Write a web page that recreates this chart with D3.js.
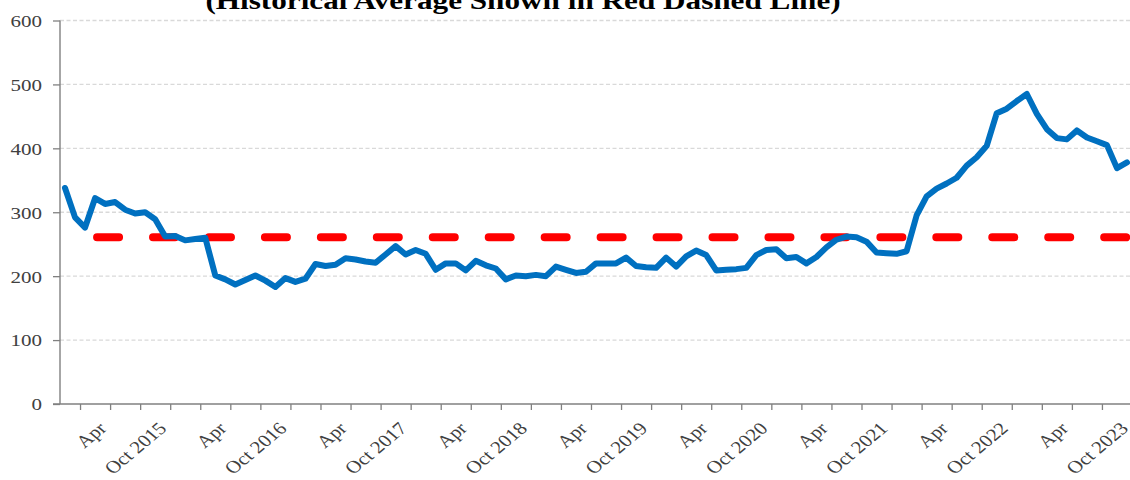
<!DOCTYPE html>
<html>
<head>
<meta charset="utf-8">
<script src="https://cdn.jsdelivr.net/npm/d3@7"></script>
<style>
  html, body { margin: 0; padding: 0; background: #ffffff; }
  svg { display: block; }
</style>
</head>
<body>
<div id="chart"></div>
<script>
// ---- data ----
const firstMonth = "2014-12";   // first category (monthly)
const monthCount = 107;         // Dec 2014 .. Oct 2023
const values = [
  338, 292, 276, 322, 313, 316, 304, 298, 300, 289,
  262, 263, 256, 258, 260, 201, 195, 187, 194, 201,
  193, 183, 197, 191, 196, 219, 216, 218, 228, 226,
  223, 221, 234, 247, 234, 241, 235, 210, 220, 220,
  209, 224, 217, 212, 195, 201, 200, 202, 200, 215,
  210, 205, 207, 220, 220, 220, 229, 216, 214, 213,
  229, 215, 231, 240, 233, 209, 210, 211, 213, 233,
  241, 242, 228, 230, 220, 230, 245, 257, 262, 261,
  254, 237, 236, 235, 239, 295, 325, 337, 345, 354,
  373, 386, 404, 455, 462, 474, 485, 454, 430, 416,
  414, 428, 417, 411, 405, 369, 378
];
const historicalAverage = 261;
const averageStartMonth = "2015-03";
const tickLabelMonths = ["2015-04","2015-10","2016-04","2016-10","2017-04","2017-10",
  "2018-04","2018-10","2019-04","2019-10","2020-04","2020-10","2021-04","2021-10",
  "2022-04","2022-10","2023-04","2023-10"];
const tickLabels = ["Apr","Oct 2015","Apr","Oct 2016","Apr","Oct 2017",
  "Apr","Oct 2018","Apr","Oct 2019","Apr","Oct 2020","Apr","Oct 2021",
  "Apr","Oct 2022","Apr","Oct 2023"];
const yTicks = [0, 100, 200, 300, 400, 500, 600];
const titleText = "(Historical Average Shown in Red Dashed Line)";

(function () {
  // ---- helpers ----
  const parseMonth = d3.timeParse("%Y-%m");
  const start = parseMonth(firstMonth);
  const monthIndex = s => d3.timeMonth.count(start, parseMonth(s));

  // ---- layout ----
  const W = 1130, H = 480;
  const mLeft = 60, mRight = 1132, mTop = 20.5, mBottom = 404;
  const SX = 1.2; // horizontal text stretch seen in the reference

  const svg = d3.select("#chart").append("svg").attr("width", W).attr("height", H);

  const xb = d3.scaleLinear().domain([0, monthCount]).range([mLeft, mRight]);
  const y = d3.scaleLinear().domain([0, 600]).range([mBottom, mTop]);

  const fontFam = "'Liberation Serif', 'Times New Roman', serif";

  // gridlines
  svg.append("g")
    .selectAll("line")
    .data(yTicks.filter(v => v > 0))
    .join("line")
    .attr("x1", mLeft).attr("x2", W)
    .attr("y1", d => y(d)).attr("y2", d => y(d))
    .attr("stroke", "#d9d9d9").attr("stroke-width", 1.3)
    .attr("stroke-dasharray", "4 2.5");

  // y axis
  const yAxis = svg.append("g").attr("transform", `translate(${mLeft},0)`)
    .call(d3.axisLeft(y).tickValues(yTicks).tickSize(7).tickPadding(0).tickFormat(d3.format("d")));
  yAxis.select(".domain").attr("stroke", "#808080").attr("stroke-width", 1.4).attr("d", `M0,${mTop}V${mBottom}`);
  yAxis.selectAll(".tick line").attr("stroke", "#808080").attr("stroke-width", 1.3);
  yAxis.selectAll(".tick text")
    .attr("x", null).attr("dy", null)
    .attr("text-anchor", "end")
    .attr("dominant-baseline", "central")
    .attr("transform", `translate(-18,0) scale(${SX},1)`)
    .attr("font-family", fontFam).attr("font-size", "17.5px").attr("fill", "#404040");

  // x axis tick marks (every 3 months, between categories)
  const boundaryTicks = d3.range(2, monthCount, 3);
  const xAxis = svg.append("g").attr("transform", `translate(0,${mBottom})`)
    .call(d3.axisBottom(xb).tickValues(boundaryTicks).tickSize(6).tickFormat(""));
  xAxis.select(".domain").attr("stroke", "#808080").attr("stroke-width", 1.4).attr("d", `M${mLeft - 7},0H${W}`);
  xAxis.selectAll(".tick line").attr("stroke", "#808080").attr("stroke-width", 1.3);

  // x axis labels at category centres
  const labelPos = tickLabelMonths.map(m => monthIndex(m) + 0.5);
  const xLab = svg.append("g").attr("transform", `translate(0,${mBottom})`)
    .call(d3.axisBottom(xb).tickValues(labelPos).tickSize(0)
      .tickFormat((d, i) => tickLabels[i]));
  xLab.select(".domain").remove();
  xLab.selectAll(".tick text")
    .attr("y", null).attr("dy", null)
    .attr("text-anchor", "end")
    .attr("transform", `translate(2,25.5) scale(${SX},1) rotate(-45)`)
    .attr("font-family", fontFam).attr("font-size", "17.5px").attr("fill", "#404040");

  // historical average (red dashed)
  const avgStart = monthIndex(averageStartMonth);
  const avgData = d3.range(avgStart, monthCount).map(i => ({ i, v: historicalAverage }));
  svg.append("path")
    .datum(avgData)
    .attr("fill", "none")
    .attr("stroke", "#ff0000")
    .attr("stroke-width", 8)
    .attr("stroke-linecap", "round")
    .attr("stroke-dasharray", "22 33.95")
    .attr("stroke-dashoffset", -2)
    .attr("d", d3.line().x(d => xb(d.i + 0.5)).y(d => y(d.v)));

  // main series (blue)
  svg.append("path")
    .datum(values)
    .attr("fill", "none")
    .attr("stroke", "#0070c0")
    .attr("stroke-width", 6)
    .attr("stroke-linejoin", "round")
    .attr("stroke-linecap", "round")
    .attr("d", d3.line().x((d, i) => xb(i + 0.5)).y(d => y(d)));

  // title (partly cut off at top)
  svg.append("text")
    .attr("transform", `translate(523,8.5) scale(${SX},1)`)
    .attr("text-anchor", "middle")
    .attr("font-family", fontFam)
    .attr("font-weight", "bold")
    .attr("font-size", "26px")
    .attr("fill", "#000000")
    .text(titleText);
})();
</script>
</body>
</html>
